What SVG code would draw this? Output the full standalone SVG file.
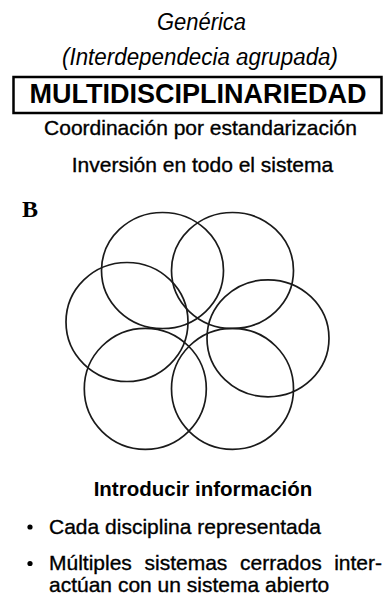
<svg xmlns="http://www.w3.org/2000/svg" width="384" height="595" viewBox="0 0 384 595">
  <style>
    text { font-family: "Liberation Sans", Arial, sans-serif; fill: #000; }
    .it { font-style: italic; font-size: 23.5px; text-anchor: middle; }
    .title { font-weight: bold; font-size: 27px; text-anchor: middle; }
    .sub { font-size: 21px; text-anchor: middle; stroke: #000; stroke-width: 0.35; }
    .head { font-weight: bold; font-size: 20.5px; text-anchor: middle; }
    .body { font-size: 21px; stroke: #000; stroke-width: 0.35; }
    .letter { font-family: "Liberation Serif", "Times New Roman", serif; font-weight: bold; font-size: 24px; }
    .ring { fill: none; stroke: #1a1a1a; stroke-width: 1.7; }
    .box { fill: none; stroke: #000; stroke-width: 2.5; }
    .dot { fill: #000; }
  </style>

  <g id="header">
    <text class="it" x="201.5" y="30" textLength="89" lengthAdjust="spacingAndGlyphs">Genérica</text>
    <text class="it" x="200" y="65" textLength="276" lengthAdjust="spacingAndGlyphs">(Interdependecia agrupada)</text>
    <rect class="box" x="13.5" y="77" width="368" height="36"/>
    <text class="title" x="198" y="103">MULTIDISCIPLINARIEDAD</text>
    <text class="sub" x="200.5" y="134.5">Coordinación por estandarización</text>
    <text class="sub" x="202.5" y="171.5">Inversión en todo el sistema</text>
  </g>

  <text class="letter" x="22" y="217">B</text>

  <g id="circles">
    <g id="c1"><ellipse class="ring" cx="162.5" cy="270.5" rx="61" ry="58"/></g>
    <g id="c2"><ellipse class="ring" cx="232.5" cy="270.5" rx="61" ry="58"/></g>
    <g id="c3"><ellipse class="ring" cx="127" cy="322" rx="61" ry="59.5"/></g>
    <g id="c4"><ellipse class="ring" cx="268" cy="338.3" rx="61" ry="58.5"/></g>
    <g id="c5"><ellipse class="ring" cx="145.3" cy="388.8" rx="61" ry="60.5"/></g>
    <g id="c6"><ellipse class="ring" cx="232.5" cy="388.8" rx="61" ry="60.5"/></g>
  </g>

  <g id="footer">
    <text class="head" x="203" y="496">Introducir información</text>
    <circle class="dot" cx="30" cy="527" r="2.6"/>
    <text class="body" x="49" y="533.5">Cada disciplina representada</text>
    <circle class="dot" cx="30" cy="563.5" r="2.6"/>
    <text class="body" x="49" y="569.5">Múltiples</text>
    <text class="body" x="144.5" y="569.5">sistemas</text>
    <text class="body" x="240" y="569.5">cerrados</text>
    <text class="body" x="382" y="569.5" text-anchor="end">inter-</text>
    <text class="body" x="49" y="592">actúan con un sistema abierto</text>
  </g>
</svg>
